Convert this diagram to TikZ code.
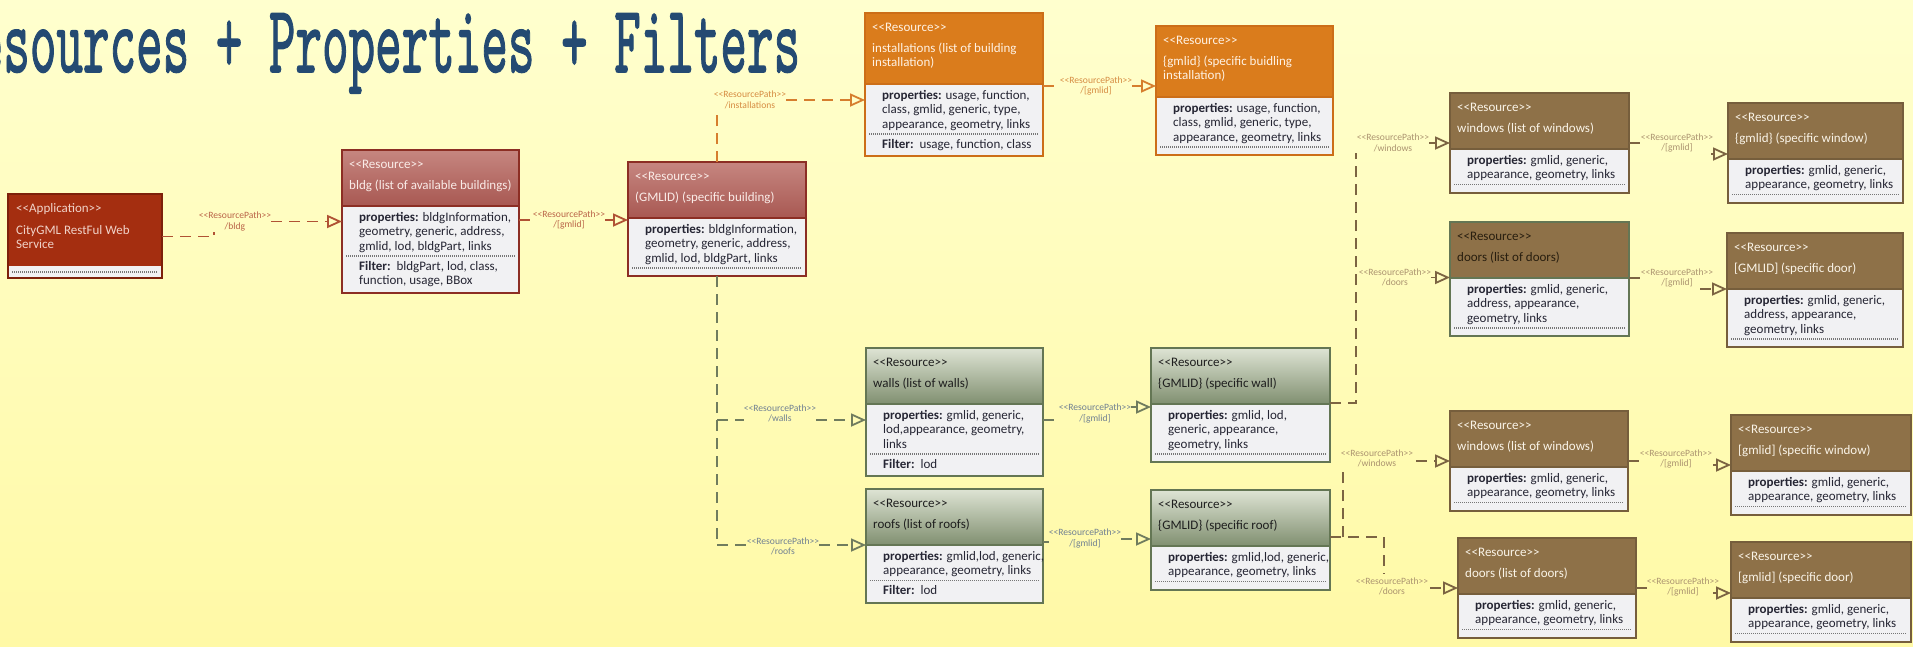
\documentclass[tikz,border=0pt]{standalone}
\usepackage{fontspec}
\setmainfont{Carlito}
\newfontfamily\titlefont{lmmono10-regular.otf}[FakeBold=1.6]
\usetikzlibrary{arrows.meta}

% background and title
\definecolor{bgtop}{RGB}{255,255,206}
\definecolor{bgbot}{RGB}{255,249,166}
\definecolor{titleblue}{RGB}{36,74,114}
% common box parts
\definecolor{bodyfill}{RGB}{241,241,243}
\definecolor{bodytext}{RGB}{38,38,52}
\definecolor{dotgray}{RGB}{118,118,118}
% application
\definecolor{apphead}{RGB}{164,46,16}
\definecolor{appframe}{RGB}{125,32,10}
\definecolor{apptext}{RGB}{240,210,200}
% building resources
\definecolor{redtop}{RGB}{198,134,128}
\definecolor{redbot}{RGB}{168,88,82}
\definecolor{redframe}{RGB}{140,46,36}
\definecolor{redtext}{RGB}{250,236,232}
% installation resources
\definecolor{orhead}{RGB}{218,124,28}
\definecolor{orframe}{RGB}{204,110,24}
\definecolor{ortext}{RGB}{255,242,228}
% wall / roof resources
\definecolor{grtop}{RGB}{222,228,212}
\definecolor{grbot}{RGB}{128,143,112}
\definecolor{grframe}{RGB}{100,118,84}
\definecolor{grtext}{RGB}{30,30,30}
% window / door resources
\definecolor{brhead}{RGB}{142,113,72}
\definecolor{brframe}{RGB}{118,94,60}
\definecolor{brtext}{RGB}{250,244,232}
\definecolor{brdark}{RGB}{40,30,15}
% connectors and their labels
\definecolor{cRed}{RGB}{176,82,52}
\definecolor{lRed}{RGB}{186,100,72}
\definecolor{cOrange}{RGB}{214,126,46}
\definecolor{lOrange}{RGB}{214,140,66}
\definecolor{cGreen}{RGB}{112,124,94}
\definecolor{lGreen}{RGB}{112,128,146}
\definecolor{cBrown}{RGB}{124,100,66}
\definecolor{lBrown}{RGB}{172,148,112}

% stereotype brackets, kept apart so they are not merged into guillemets
\newcommand\stO{<\kern0pt<}
\newcommand\stC{>\kern0pt>}

\tikzset{
  boxnode/.style={inner sep=0pt, outer sep=0pt, anchor=north west},
  red head/.style={top color=redtop, bottom color=redbot},
  red frame/.style={draw=redframe},
  red text/.style={text=redtext},
  orange head/.style={fill=orhead},
  orange frame/.style={draw=orframe},
  orange text/.style={text=ortext},
  green head/.style={top color=grtop, bottom color=grbot},
  green frame/.style={draw=grframe},
  green text/.style={text=grtext},
  brown head/.style={fill=brhead},
  brown frame/.style={draw=brframe},
  brown text/.style={text=brtext},
  browngreen head/.style={fill=brhead},
  browngreen frame/.style={draw=grframe},
  browngreen text/.style={text=brdark},
  htext/.style={anchor=north west, inner sep=0pt, align=left,
    font=\fontsize{13}{14.5}\selectfont},
  btext/.style={htext, text=bodytext},
  sepline/.style={draw=dotgray, line width=1.1pt, dash pattern=on 1pt off 1pt},
  conn/.style={line width=1.8pt, dash pattern=on 11pt off 7pt},
  opentri/.style={-{Triangle[open,length=15pt,width=13pt]}},
  lbl/.style={align=center, inner sep=0pt, font=\fontsize{9.6}{10.5}\selectfont},
}

% resource box: name, x, y (top), width, palette, header lines, property lines, filter lines
\newcommand\resbox[8]{%
  \pgfmathsetmacro\bxHead{41+15*#6}%
  \pgfmathsetmacro\bxDot{\bxHead+21+14.5*(#7-1)}%
  \ifnum#8=0\relax
    \pgfmathsetmacro\bxH{\bxDot+8}%
  \else
    \pgfmathsetmacro\bxH{\bxDot+22+14.5*(#8-1)}%
  \fi
  \node[boxnode, minimum width=#4pt, minimum height=\bxH pt] (#1) at (#2,#3) {};
  \path[#5 head] (#1.north west) rectangle ([yshift=-\bxHead pt]#1.north east);
  \path[fill=bodyfill] ([yshift=-\bxHead pt]#1.north west) rectangle (#1.south east);
  \draw[#5 frame, line width=1.5pt] ([yshift=-\bxHead pt]#1.north west) -- ([yshift=-\bxHead pt]#1.north east);
  \draw[sepline] ([xshift=4pt,yshift=-\bxDot pt]#1.north west) -- ([xshift=-4pt,yshift=-\bxDot pt]#1.north east);
  \draw[#5 frame, line width=2pt] (#1.north west) rectangle (#1.south east);
  \coordinate (#1-st) at ([xshift=7pt,yshift=-7.85pt]#1.north west);
  \coordinate (#1-nm) at ([xshift=7pt,yshift=-28.85pt]#1.north west);
  \coordinate (#1-pr) at ([xshift=17pt,yshift=-\bxHead pt-4.85pt]#1.north west);
  \coordinate (#1-fl) at ([xshift=17pt,yshift=-\bxDot pt-3.85pt]#1.north west);
}
\newcommand\restitle[3]{%
  \node[htext, #2 text] (#1-stereo) at (#1-st) {\strut\stO Resource\stC};
  \node[htext, #2 text] (#1-name) at (#1-nm) {\strut #3};
}
\newcommand\resprops[2]{\node[btext] (#1-props) at (#1-pr) {\strut\textbf{properties:} #2};}
\newcommand\resfilter[2]{\node[btext] (#1-filter) at (#1-fl) {\strut\textbf{Filter:}\ \ #2};}

\begin{document}
\begin{tikzpicture}[x=1pt, y=-1pt]
\useasboundingbox (0,0) rectangle (1913,646);
\clip (0,0) rectangle (1913,646);
\shade[top color=bgtop, bottom color=bgbot] (0,0) rectangle (1913,646);

% title (runs off the left edge)
\node[anchor=base west, inner sep=0pt, text=titleblue,
      font=\titlefont\fontsize{96}{96}\selectfont] (title) at (-50,72)
  {\raisebox{0pt}[\height][0pt]{\scalebox{0.527}[1]{Resources + Properties + Filters}}};

% application
\node[boxnode, minimum width=154pt, minimum height=84pt] (app) at (8,194) {};
\fill[apphead] (app.north west) rectangle ([yshift=12pt]app.south east);
\fill[bodyfill] ([yshift=12pt]app.south west) rectangle (app.south east);
\draw[sepline] ([xshift=4pt,yshift=6pt]app.south west) -- ([xshift=-4pt,yshift=6pt]app.south east);
\draw[appframe, line width=2pt] (app.north west) rectangle (app.south east);
\node[htext, text=apptext] (app-stereo) at ([xshift=8pt,yshift=-7.85pt]app.north west) {\strut\stO Application\stC};
\node[htext, text=apptext] (app-name) at ([xshift=8pt,yshift=-29.85pt]app.north west) {\strut CityGML RestFul Web\\Service};

% buildings
\resbox{bldg}{342}{150}{177}{red}{1}{3}{2}
\restitle{bldg}{red}{bldg (list of available buildings)}
\resprops{bldg}{bldgInformation,\\geometry, generic, address,\\gmlid, lod, bldgPart, links}
\resfilter{bldg}{bldgPart, lod, class,\\function, usage, BBox}

\resbox{gb}{628}{162}{178}{red}{1}{3}{0}
\restitle{gb}{red}{(GMLID) (specific building)}
\resprops{gb}{bldgInformation,\\geometry, generic, address,\\gmlid, lod, bldgPart, links}

% installations
\resbox{inst}{865}{13}{178}{orange}{2}{3}{1}
\restitle{inst}{orange}{installations (list of building\\installation)}
\resprops{inst}{usage, function,\\class, gmlid, generic, type,\\appearance, geometry, links}
\resfilter{inst}{usage, function, class}

\resbox{ginst}{1156}{26}{177}{orange}{2}{3}{0}
\restitle{ginst}{orange}{\{gmlid\} (specific buidling\\installation)}
\resprops{ginst}{usage, function,\\class, gmlid, generic, type,\\appearance, geometry, links}

% walls and roofs
\resbox{walls}{866}{348}{177}{green}{1}{3}{1}
\restitle{walls}{green}{walls (list of walls)}
\resprops{walls}{gmlid, generic,\\lod,appearance, geometry,\\links}
\resfilter{walls}{lod}

\resbox{gwall}{1151}{348}{179}{green}{1}{3}{0}
\restitle{gwall}{green}{\{GMLID\} (specific wall)}
\resprops{gwall}{gmlid, lod,\\generic, appearance,\\geometry, links}

\resbox{roofs}{866}{489}{177}{green}{1}{2}{1}
\restitle{roofs}{green}{roofs (list of roofs)}
\resprops{roofs}{gmlid,lod, generic,\\appearance, geometry, links}
\resfilter{roofs}{lod}

\resbox{groof}{1151}{490}{179}{green}{1}{2}{0}
\restitle{groof}{green}{\{GMLID\} (specific roof)}
\resprops{groof}{gmlid,lod, generic,\\appearance, geometry, links}

% windows and doors of a wall
\resbox{winT}{1450}{93}{179}{brown}{1}{2}{0}
\restitle{winT}{brown}{windows (list of windows)}
\resprops{winT}{gmlid, generic,\\appearance, geometry, links}

\resbox{gwinT}{1728}{103}{175}{brown}{1}{2}{0}
\restitle{gwinT}{brown}{\{gmlid\} (specific window)}
\resprops{gwinT}{gmlid, generic,\\appearance, geometry, links}

\resbox{doorsT}{1450}{222}{179}{browngreen}{1}{3}{0}
\restitle{doorsT}{browngreen}{doors (list of doors)}
\resprops{doorsT}{gmlid, generic,\\address, appearance,\\geometry, links}

\resbox{gdoorT}{1727}{233}{176}{brown}{1}{3}{0}
\restitle{gdoorT}{brown}{[GMLID] (specific door)}
\resprops{gdoorT}{gmlid, generic,\\address, appearance,\\geometry, links}

% windows and doors of a roof
\resbox{winB}{1450}{411}{178}{brown}{1}{2}{0}
\restitle{winB}{brown}{windows (list of windows)}
\resprops{winB}{gmlid, generic,\\appearance, geometry, links}

\resbox{gwinB}{1731}{415}{180}{brown}{1}{2}{0}
\restitle{gwinB}{brown}{[gmlid] (specific window)}
\resprops{gwinB}{gmlid, generic,\\appearance, geometry, links}

\resbox{doorsB}{1458}{538}{178}{brown}{1}{2}{0}
\restitle{doorsB}{brown}{doors (list of doors)}
\resprops{doorsB}{gmlid, generic,\\appearance, geometry, links}

\resbox{gdoorB}{1731}{542}{180}{brown}{1}{2}{0}
\restitle{gdoorB}{brown}{[gmlid] (specific door)}
\resprops{gdoorB}{gmlid, generic,\\appearance, geometry, links}

% ---- resource paths ----
% application -> building list
\node[lbl, text=lRed] (l1) at (235,221.5) {\stO ResourcePath\stC\\/bldg};
\coordinate (k1) at (214,236.5);
\draw[conn, draw=cRed] (app.east |- k1) -- (k1) -- ++(0,-5);
\draw[conn, draw=cRed, opentri] (l1.east) -- (bldg.west |- l1.east);

% building list -> single building
\node[lbl, text=lRed] (l2) at (569,220) {\stO ResourcePath\stC\\/[gmlid]};
\draw[conn, draw=cRed] (bldg.east |- l2) -- (l2.west);
\draw[conn, draw=cRed, opentri] (l2.east) -- (gb.west |- l2.east);

% single building -> installations
\node[lbl, text=lOrange] (l3) at (750,100) {\stO ResourcePath\stC\\/installations};
\draw[conn, draw=cOrange] (gb.north) -- ([yshift=-3pt]gb.north |- l3.south);
\draw[conn, draw=cOrange, opentri] (l3.east) -- (inst.west |- l3.east);

% installations -> single installation
\node[lbl, text=lOrange] (l4) at (1096,86) {\stO ResourcePath\stC\\/[gmlid]};
\draw[conn, draw=cOrange] (inst.east |- l4) -- (l4.west);
\draw[conn, draw=cOrange, opentri] (l4.east) -- (ginst.west |- l4.east);

% single building -> walls, roofs
\coordinate (wj) at (717,420);
\coordinate (rj) at (717,545);
\node[lbl, text=lGreen] (l5) at (780,413.5) {\stO ResourcePath\stC\\/walls};
\node[lbl, text=lGreen] (l6) at (783,546.5) {\stO ResourcePath\stC\\/roofs};
\draw[conn, draw=cGreen] (gb.south) -- (rj);
\draw[conn, draw=cGreen] (wj) -- (l5.west |- wj);
\draw[conn, draw=cGreen, opentri] (l5.east |- wj) -- (walls.west |- wj);
\draw[conn, draw=cGreen] (rj) -- (l6.west |- rj);
\draw[conn, draw=cGreen, opentri] (l6.east |- rj) -- (roofs.west |- rj);

% walls -> single wall
\node[lbl, text=lGreen] (l7) at (1095,413.5) {\stO ResourcePath\stC\\/[gmlid]};
\coordinate (gwj) at (1140,407);
\draw[conn, draw=cGreen] (walls.east |- wj) -- (l7.west |- wj);
\draw[conn, draw=cGreen, opentri] (l7.east |- gwj) -- (gwall.west |- gwj);

% roofs -> single roof
\node[lbl, text=lGreen] (l8) at (1085,538.5) {\stO ResourcePath\stC\\/[gmlid]};
\coordinate (rfj) at (1043,542);
\coordinate (grj) at (1130,539);
\draw[conn, draw=cGreen] (roofs.east |- rfj) -- (l8.west |- rfj);
\draw[conn, draw=cGreen, opentri] (l8.east |- grj) -- (groof.west |- grj);

% single wall -> windows, doors
\coordinate (bt) at (1356,403);
\coordinate (btTop) at (1356,153);
\node[lbl, text=lBrown] (l9) at (1393,143) {\stO ResourcePath\stC\\/windows};
\node[lbl, text=lBrown] (l10) at (1395,277.5) {\stO ResourcePath\stC\\/doors};
\draw[conn, draw=cBrown] (gwall.east |- bt) -- (bt) -- (btTop);
\draw[conn, draw=cBrown, opentri] (l9.east) -- (winT.west |- l9.east);
\draw[conn, draw=cBrown, opentri] (l10.east) -- (doorsT.west |- l10.east);

% windows -> single window
\node[lbl, text=lBrown] (l11) at (1677,143) {\stO ResourcePath\stC\\/[gmlid]};
\coordinate (gwtj) at (1711,154);
\draw[conn, draw=cBrown] (winT.east |- l11) -- (l11.west);
\draw[conn, draw=cBrown, opentri] (gwtj) -- (gwinT.west |- gwtj);

% doors -> single door
\node[lbl, text=lBrown] (l12) at (1677,278) {\stO ResourcePath\stC\\/[gmlid]};
\coordinate (gdtj) at (1700,289);
\draw[conn, draw=cBrown] (doorsT.east |- l12) -- (l12.west);
\draw[conn, draw=cBrown, opentri] (gdtj) -- (gdoorT.west |- gdtj);

% single roof -> windows, doors
\coordinate (rb) at (1384,537);
\coordinate (rbEnd) at (1384,574);
\coordinate (rbw) at (1343,537);
\coordinate (rbwEnd) at (1343,470);
\node[lbl, text=lBrown] (l13) at (1377,458.5) {\stO ResourcePath\stC\\/windows};
\node[lbl, text=lBrown] (l14) at (1392,586.5) {\stO ResourcePath\stC\\/doors};
\coordinate (wbj) at (1416,461);
\coordinate (dbj) at (1430,588);
\draw[conn, draw=cBrown] (groof.east |- rb) -- (rb) -- (rbEnd);
\draw[conn, draw=cBrown] (rbw) -- (rbwEnd);
\draw[conn, draw=cBrown, opentri] (wbj) -- (winB.west |- wbj);
\draw[conn, draw=cBrown, opentri] (dbj) -- (doorsB.west |- dbj);

% windows -> single window
\node[lbl, text=lBrown] (l15) at (1676,459) {\stO ResourcePath\stC\\/[gmlid]};
\coordinate (gwbj) at (1713,465);
\draw[conn, draw=cBrown] (winB.east |- wbj) -- (l15.west |- wbj);
\draw[conn, draw=cBrown, opentri] (gwbj) -- (gwinB.west |- gwbj);

% doors -> single door
\node[lbl, text=lBrown] (l16) at (1683,587) {\stO ResourcePath\stC\\/[gmlid]};
\coordinate (gdbj) at (1713,593);
\draw[conn, draw=cBrown] (doorsB.east |- dbj) -- (l16.west |- dbj);
\draw[conn, draw=cBrown, opentri] (gdbj) -- (gdoorB.west |- gdbj);

\end{tikzpicture}
\end{document}
